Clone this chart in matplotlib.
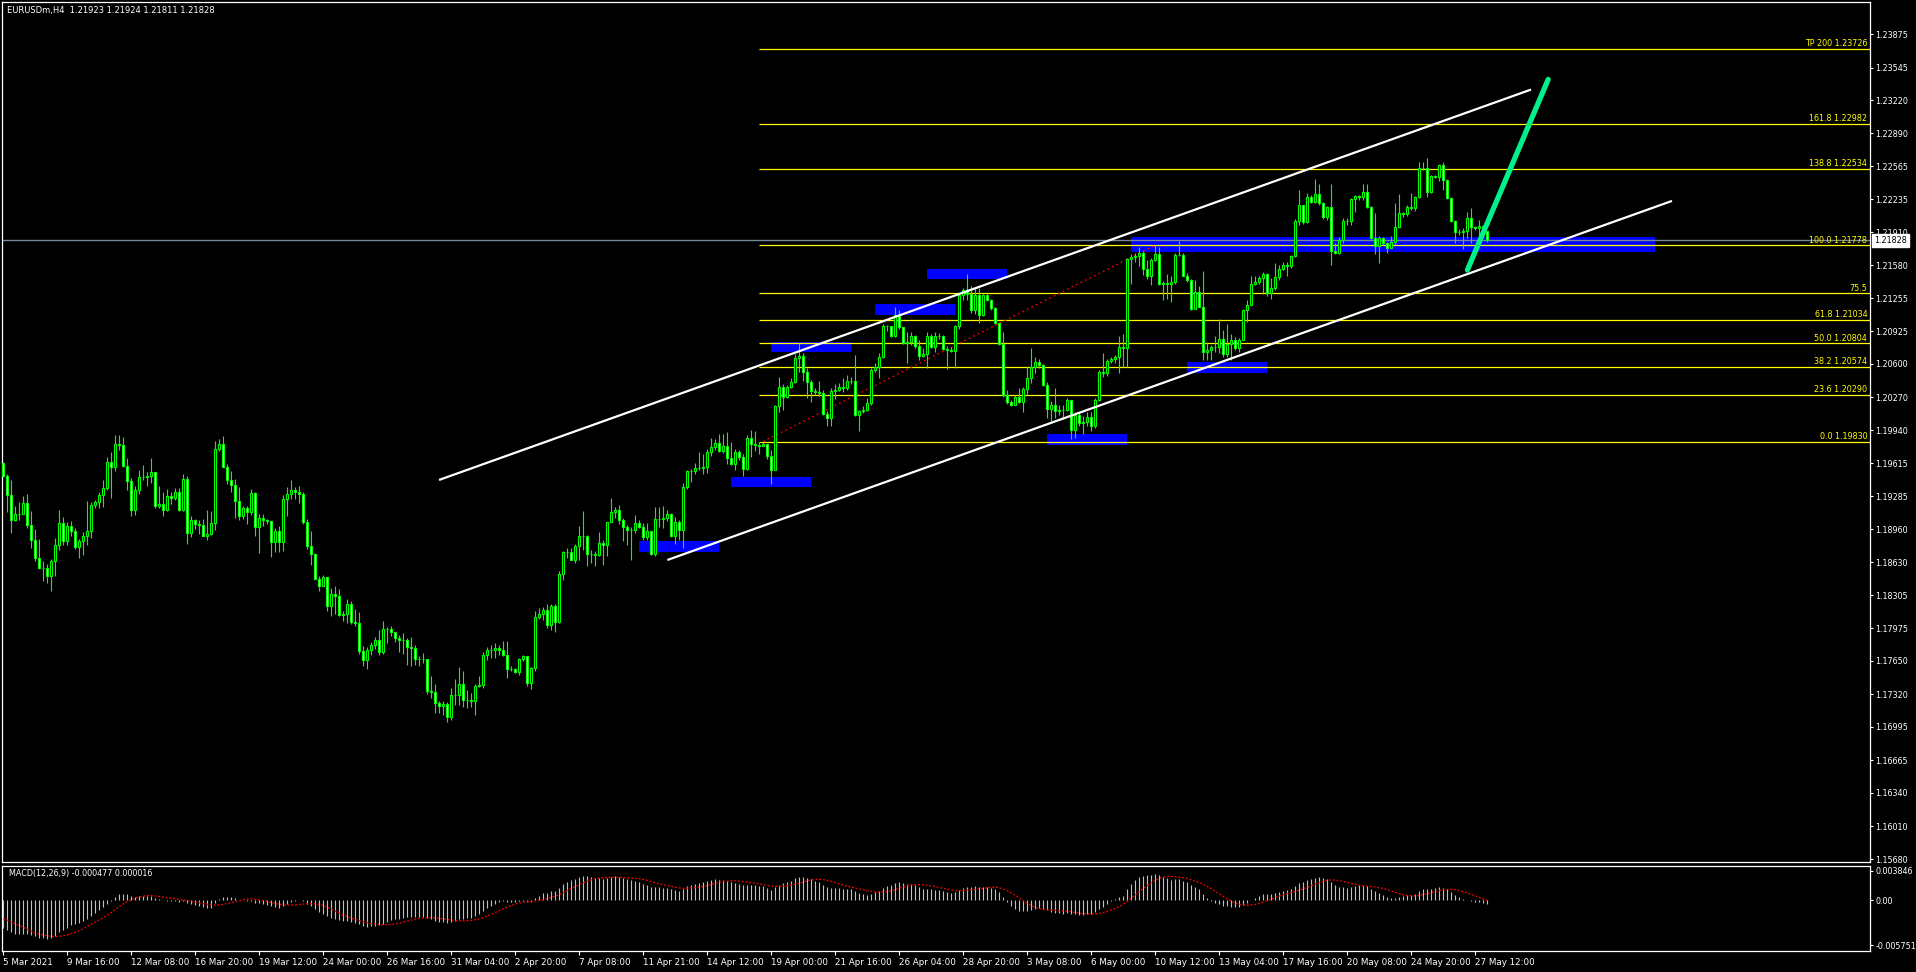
import numpy as np
import pandas as pd
import matplotlib
matplotlib.use("Agg")
import matplotlib.pyplot as plt
from matplotlib.patches import Rectangle

# EURUSDm H4, 5 Mar 2021 - 27 May 2021, prices in 1e-4 units
first_open = 11962
closes = [
    11949, 11930, 11905, 11911, 11911, 11922, 11900, 11885, 11867, 11857,
    11857, 11849, 11864, 11880, 11902, 11884, 11899, 11894, 11878, 11884,
    11889, 11894, 11920, 11923, 11930, 11937, 11963, 11958, 11981, 11980,
    11959, 11944, 11915, 11935, 11948, 11948, 11949, 11953, 11919, 11921,
    11915, 11929, 11927, 11933, 11915, 11946, 11892, 11905, 11901, 11900,
    11889, 11891, 11902, 11976, 11981, 11958, 11945, 11940, 11924, 11909,
    11917, 11913, 11932, 11898, 11907, 11905, 11904, 11883, 11894, 11883,
    11926, 11931, 11935, 11933, 11931, 11903, 11879, 11871, 11846, 11839,
    11848, 11820, 11832, 11830, 11811, 11812, 11822, 11804, 11803, 11775,
    11766, 11776, 11781, 11786, 11774,
    11797, 11797, 11794, 11788, 11786, 11786, 11779, 11778, 11767, 11767,
    11767, 11735, 11734, 11723, 11720, 11722, 11709, 11731, 11731, 11742,
    11726, 11726, 11725, 11740, 11741, 11771, 11776, 11776, 11778, 11776,
    11771, 11757, 11757, 11754, 11767, 11770, 11743, 11758, 11809, 11812,
    11816, 11801, 11820, 11804, 11851, 11873, 11873, 11865, 11879, 11889,
    11889, 11871, 11871, 11870, 11882, 11880, 11903, 11913, 11915, 11905,
    11898, 11895, 11895, 11902, 11898, 11888, 11894, 11871, 11906, 11906,
    11907, 11911, 11889, 11903, 11895, 11938, 11954, 11954, 11957, 11957,
    11958, 11973, 11978, 11982, 11974, 11979, 11967, 11961, 11973, 11968,
    11956, 11986,
    11981, 11980, 11979, 11981, 11969, 11955, 12018, 12037, 12027, 12037,
    12042, 12066, 12068, 12052, 12042, 12033, 12032, 12031, 12010, 12006,
    12033, 12034, 12037, 12036, 12043, 12043, 12009, 12013, 12014, 12021,
    12054, 12057, 12067, 12098, 12098, 12088, 12109, 12097, 12081, 12082,
    12088, 12078, 12068, 12070, 12088, 12077, 12088, 12088, 12075, 12074,
    12073, 12098, 12129, 12134, 12130, 12114, 12129, 12109, 12129, 12124,
    12116, 12101, 12080, 12029, 12022, 12019, 12027, 12022, 12035, 12046,
    12057, 12062, 12059, 12039, 12015, 12019, 12013, 12014, 12014, 12024,
    11994, 12009, 12001, 12002, 12007, 11998, 12024, 12052, 12051, 12063,
    12065, 12067,
    12077, 12076, 12164, 12166, 12167, 12170, 12154, 12147, 12163, 12169,
    12139, 12140, 12139, 12141, 12168, 12168, 12147, 12143, 12115, 12132,
    12117, 12072, 12074, 12077, 12077, 12085, 12070, 12080, 12084, 12076,
    12084, 12114, 12119, 12139, 12141, 12145, 12149, 12131, 12135, 12146,
    12154, 12158, 12157, 12167, 12202, 12218, 12201, 12226, 12221, 12229,
    12220, 12206, 12216, 12172, 12170, 12183, 12202, 12202, 12224, 12227,
    12226, 12231, 12216, 12185, 12177, 12185, 12180, 12175, 12181, 12196,
    12210, 12209, 12216, 12215, 12226, 12255, 12255, 12231, 12247, 12246,
    12258, 12243, 12225, 12202, 12191, 12191, 12192, 12205, 12196, 12195,
    12197, 12192, 12183,
]
highs = [
    11963, 11951, 11945, 11919, 11923, 11929, 11931, 11914, 11896, 11886,
    11864, 11861, 11866, 11887, 11915, 11908, 11903, 11904, 11897, 11886,
    11893, 11924, 11923, 11925, 11933, 11945, 11968, 11973, 11989, 11989,
    11987, 11967, 11947, 11939, 11955, 11960, 11953, 11967, 11953, 11939,
    11933, 11936, 11933, 11937, 11937, 11951, 11949, 11909, 11906, 11905,
    11906, 11915, 11914, 11984, 11985, 11988, 11961, 11954, 11946, 11938,
    11919, 11919, 11936, 11933, 11911, 11911, 11906, 11889, 11897, 11899,
    11930, 11938, 11945, 11938, 11939, 11933, 11906, 11894, 11872, 11849,
    11850, 11848, 11837, 11839, 11836, 11815, 11827, 11825, 11817, 11814,
    11780, 11779, 11784, 11789, 11796,
    11805, 11799, 11800, 11791, 11791, 11793, 11788, 11789, 11781, 11770,
    11773, 11767, 11750, 11742, 11725, 11725, 11724, 11738, 11747, 11759,
    11755, 11736, 11733, 11742, 11750, 11774, 11779, 11781, 11783, 11781,
    11785, 11785, 11760, 11758, 11768, 11771, 11770, 11759, 11815, 11818,
    11819, 11822, 11822, 11822, 11854, 11874, 11877, 11877, 11881, 11899,
    11914, 11890, 11875, 11874, 11893, 11885, 11903, 11927, 11918, 11920,
    11907, 11900, 11898, 11910, 11905, 11902, 11902, 11894, 11918, 11918,
    11919, 11915, 11912, 11908, 11905, 11942, 11955, 11956, 11962, 11973,
    11971, 11976, 11986, 11985, 11990, 11990, 11992, 11983, 11976, 11975,
    11971, 11989,
    11994, 11993, 11983, 11983, 11972, 11975, 12019, 12047, 12040, 12039,
    12046, 12070, 12081, 12071, 12056, 12044, 12036, 12043, 12034, 12013,
    12036, 12040, 12041, 12046, 12049, 12047, 12069, 12014, 12018, 12026,
    12056, 12061, 12071, 12100, 12099, 12094, 12117, 12114, 12097, 12092,
    12092, 12089, 12084, 12076, 12092, 12090, 12092, 12091, 12089, 12078,
    12077, 12099, 12130, 12135, 12149, 12137, 12135, 12135, 12130, 12130,
    12125, 12117, 12102, 12092, 12034, 12024, 12029, 12036, 12037, 12057,
    12076, 12067, 12065, 12060, 12042, 12023, 12036, 12019, 12019, 12026,
    12024, 12012, 12012, 12008, 12012, 12012, 12026, 12054, 12071, 12065,
    12067, 12069,
    12088, 12090, 12165, 12169, 12170, 12176, 12172, 12163, 12165, 12178,
    12176, 12142, 12149, 12147, 12170, 12182, 12170, 12150, 12144, 12143,
    12137, 12152, 12082, 12079, 12088, 12105, 12094, 12100, 12090, 12087,
    12086, 12115, 12124, 12147, 12147, 12147, 12151, 12150, 12145, 12160,
    12158, 12161, 12161, 12168, 12204, 12233, 12218, 12230, 12228, 12244,
    12239, 12221, 12217, 12239, 12180, 12186, 12205, 12205, 12225, 12228,
    12228, 12239, 12239, 12217, 12210, 12187, 12186, 12181, 12187, 12220,
    12229, 12211, 12218, 12230, 12227, 12261, 12261, 12265, 12248, 12248,
    12259, 12261, 12244, 12226, 12203, 12194, 12195, 12211, 12215, 12197,
    12203, 12198, 12192,
]
lows = [
    11948, 11913, 11892, 11904, 11905, 11911, 11897, 11877, 11864, 11856,
    11844, 11842, 11835, 11849, 11875, 11880, 11880, 11889, 11876, 11867,
    11870, 11880, 11887, 11917, 11917, 11918, 11935, 11927, 11954, 11975,
    11958, 11935, 11909, 11910, 11931, 11945, 11939, 11942, 11917, 11917,
    11909, 11914, 11921, 11925, 11914, 11914, 11881, 11888, 11896, 11891,
    11889, 11885, 11890, 11895, 11974, 11958, 11941, 11933, 11907, 11905,
    11906, 11901, 11910, 11889, 11872, 11899, 11901, 11868, 11873, 11873,
    11874, 11909, 11926, 11926, 11922, 11901, 11876, 11860, 11846, 11835,
    11839, 11815, 11810, 11812, 11810, 11805, 11803, 11802, 11800, 11772,
    11760, 11757, 11771, 11777, 11771,
    11772, 11783, 11790, 11784, 11774, 11772, 11761, 11760, 11761, 11760,
    11763, 11732, 11728, 11713, 11713, 11711, 11704, 11706, 11721, 11721,
    11719, 11718, 11719, 11711, 11739, 11738, 11766, 11768, 11768, 11771,
    11770, 11748, 11755, 11753, 11751, 11765, 11740, 11737, 11755, 11807,
    11806, 11798, 11796, 11794, 11803, 11845, 11867, 11865, 11862, 11865,
    11875, 11859, 11862, 11859, 11869, 11860, 11869, 11903, 11907, 11901,
    11884, 11880, 11865, 11892, 11897, 11885, 11885, 11870, 11869, 11898,
    11897, 11904, 11888, 11881, 11885, 11877, 11936, 11943, 11951, 11955,
    11951, 11952, 11969, 11975, 11973, 11972, 11961, 11960, 11955, 11965,
    11949, 11955,
    11968, 11974, 11971, 11980, 11966, 11941, 11955, 12012, 12014, 12026,
    12036, 12041, 12052, 12043, 12026, 12022, 12029, 12028, 12009, 11998,
    11998, 12025, 12033, 12032, 12034, 12040, 12008, 11993, 12011, 12013,
    12019, 12052, 12046, 12066, 12093, 12087, 12087, 12095, 12080, 12061,
    12079, 12076, 12064, 12067, 12056, 12076, 12072, 12085, 12074, 12055,
    12072, 12056, 12095, 12124, 12124, 12111, 12110, 12101, 12108, 12124,
    12114, 12100, 12079, 12027, 12020, 12018, 12020, 12021, 12012, 12030,
    12041, 12051, 12056, 12038, 12006, 12003, 12006, 12009, 12005, 12013,
    11985, 11986, 11998, 11990, 11998, 11993, 11996, 12023, 12047, 12048,
    12061, 12061,
    12051, 12057, 12057, 12139, 12161, 12157, 12148, 12144, 12138, 12162,
    12138, 12124, 12125, 12122, 12139, 12167, 12147, 12141, 12114, 12115,
    12117, 12064, 12064, 12064, 12072, 12071, 12067, 12067, 12064, 12074,
    12072, 12084, 12102, 12119, 12138, 12139, 12130, 12128, 12125, 12134,
    12143, 12153, 12147, 12155, 12166, 12198, 12199, 12200, 12220, 12220,
    12218, 12204, 12203, 12158, 12169, 12169, 12180, 12198, 12198, 12211,
    12223, 12223, 12215, 12184, 12169, 12160, 12178, 12170, 12178, 12179,
    12196, 12206, 12207, 12213, 12212, 12225, 12253, 12226, 12230, 12245,
    12242, 12233, 12224, 12201, 12180, 12188, 12174, 12185, 12180, 12193,
    12183, 12191, 12181,
]

date_labels = [
    "5 Mar 2021", "9 Mar 16:00", "12 Mar 08:00", "16 Mar 20:00", "19 Mar 12:00",
    "24 Mar 00:00", "26 Mar 16:00", "31 Mar 04:00", "2 Apr 20:00", "7 Apr 08:00",
    "11 Apr 21:00", "14 Apr 12:00", "19 Apr 00:00", "21 Apr 16:00", "26 Apr 04:00",
    "28 Apr 20:00", "3 May 08:00", "6 May 00:00", "10 May 12:00", "13 May 04:00",
    "17 May 16:00", "20 May 08:00", "24 May 20:00", "27 May 12:00",
]
price_ticks = [
    1.23875, 1.23545, 1.23220, 1.22890, 1.22565, 1.22235, 1.21910, 1.21580,
    1.21255, 1.20925, 1.20600, 1.20270, 1.19940, 1.19615, 1.19285, 1.18960,
    1.18630, 1.18305, 1.17975, 1.17650, 1.17320, 1.16995, 1.16665, 1.16340,
    1.16010, 1.15680,
]

fib_prices = [1.19830, 1.20290, 1.20574, 1.20804, 1.21034, 1.21301, 1.21778,
              1.22534, 1.22982, 1.23726]
fib_texts = ["0.0 1.19830", "23.6 1.20290", "38.2 1.20574", "50.0 1.20804",
             "61.8 1.21034", "75.5", "100.0 1.21778", "138.8 1.22534",
             "161.8 1.22982", "TP 200 1.23726"]
fib_start = 189
fib_base = [(190, 1.19830), (288, 1.21778)]

# demand / supply boxes: bar from, bar to, low, high
zones = [
    (159, 179, 1.18735, 1.18842),
    (182, 202, 1.19381, 1.19477),
    (192, 212, 1.20722, 1.20816),
    (218, 238, 1.21087, 1.21196),
    (231, 251, 1.21445, 1.21544),
    (261, 281, 1.19795, 1.19904),
    (296, 316, 1.20511, 1.20620),
    (282, 413, 1.21716, 1.21858),
]
channel_top = [(109, 1.19448), (382, 1.23326)]
channel_bottom = [(166.1, 1.18653), (417.25, 1.22220)]
target_line = [(366.1, 1.21534), (386.3, 1.23427)]
last_price = 1.21828

# ema12, ema26 and signal carried in from before 5 Mar
macd_seed = (1.1996, 1.2031, -0.0022)

c = np.array(closes) / 1e4
o = np.r_[first_open / 1e4, c[:-1]]
h = np.maximum(np.array(highs) / 1e4, np.maximum(o, c))
l = np.minimum(np.array(lows) / 1e4, np.minimum(o, c))
x = np.arange(len(c))

# MACD(12,26,9), MT4 style: main = ema12 - ema26, signal = sma9 of main
e12, e26, s0 = macd_seed
main = []
for v in c:
    e12 += (v - e12) * 2 / 13
    e26 += (v - e26) * 2 / 27
    main.append(e12 - e26)
main = np.array(main)
signal = pd.Series(np.r_[[s0] * 8, main]).rolling(9).mean().values[8:]

W, H = 1916, 972
fig = plt.figure(figsize=(W / 100, H / 100), dpi=100, facecolor="black")
ax = fig.add_axes([2 / W, 1 - 862 / H, 1868 / W, 860 / H], facecolor="black")
mx = fig.add_axes([2 / W, 1 - 951 / H, 1868 / W, 85.5 / H], facecolor="black", sharex=ax)

lime = "#00ff00"
fs = 5.8

ax.set_xlim(-0.25, 466.75)
ax.set_ylim(1.15653, 1.24196)

for x0, x1, lo, hi in zones:
    ax.add_patch(Rectangle((x0, lo), x1 - x0, hi - lo, color="#0000ff", lw=0, zorder=1))

ax.axhline(last_price, color="#778899", lw=1, zorder=1.2)
for p in fib_prices:
    ax.hlines(p, fib_start, 466.75, color="#ffff00", lw=0.9, zorder=1.4)
for p, t in zip(fib_prices, fib_texts):
    ax.annotate(t, (1, p), xycoords=("axes fraction", "data"), xytext=(-2, 0.6),
                textcoords="offset points", ha="right", va="bottom",
                color="#ffff00", fontsize=fs, zorder=5)
ax.plot([fib_base[0][0], fib_base[1][0]], [fib_base[0][1], fib_base[1][1]],
        color="red", lw=0.9, ls=(0, (1.5, 2.5)), zorder=1.5)

# candles
ax.vlines(x, l, h, color=lime, lw=0.8, zorder=2)
bear = c < o
ax.bar(x, c - o, bottom=o, width=0.5, color=np.where(bear, "white", "black"),
       edgecolor=lime, linewidth=0.8, zorder=3)

for seg in (channel_top, channel_bottom):
    ax.plot([seg[0][0], seg[1][0]], [seg[0][1], seg[1][1]], color="white", lw=1.6,
            solid_capstyle="butt", zorder=4)
ax.plot([target_line[0][0], target_line[1][0]], [target_line[0][1], target_line[1][1]],
        color="#00f08c", lw=3.8, solid_capstyle="round", zorder=4)

ax.yaxis.tick_right()
ax.set_yticks(price_ticks)
ax.set_yticklabels([f"{p:.5f}" for p in price_ticks])
ax.tick_params(axis="y", colors="white", length=2.5, width=0.8, labelsize=fs, pad=1.5)
ax.tick_params(axis="x", bottom=False, labelbottom=False)
for s in ax.spines.values():
    s.set_color("white")
    s.set_linewidth(0.9)

ax.annotate(f"{last_price:.5f}", (1, last_price), xycoords=("axes fraction", "data"),
            xytext=(3.2, 0), textcoords="offset points", ha="left", va="center",
            color="black", fontsize=fs, annotation_clip=False,
            bbox=dict(boxstyle="square,pad=0.25", fc="white", ec="white"))

fig.text(7 / W, 1 - 11 / H, "EURUSDm,H4  1.21923 1.21924 1.21811 1.21828",
         color="white", fontsize=6.0, va="center", ha="left")

# MACD window
mx.set_ylim(-0.006514, 0.004494)
mx.vlines(x, 0, main, color="#c0c0c0", lw=0.8)
mx.plot(x, signal, color="red", lw=0.9, ls=(0, (1.5, 1.5)))
mx.text(7 / 1868, 1 - 8 / 85.5, "MACD(12,26,9) -0.000477 0.000016", transform=mx.transAxes,
        color="white", fontsize=fs, va="center", ha="left")
mx.yaxis.tick_right()
mx.set_yticks([0.003846, 0.0, -0.005751])
mx.set_yticklabels(["0.003846", "0.00", "-0.005751"])
mx.tick_params(axis="y", colors="white", length=2.5, width=0.8, labelsize=fs, pad=1.5)
mx.set_xticks(np.arange(len(date_labels)) * 16)
mx.set_xticklabels(date_labels)
mx.tick_params(axis="x", colors="white", length=3, width=0.8, labelsize=6.3, pad=2)
for t in mx.get_xticklabels():
    t.set_ha("left")
for s in mx.spines.values():
    s.set_color("white")
    s.set_linewidth(0.9)

fig.savefig("out.png", dpi=100, facecolor="black")
